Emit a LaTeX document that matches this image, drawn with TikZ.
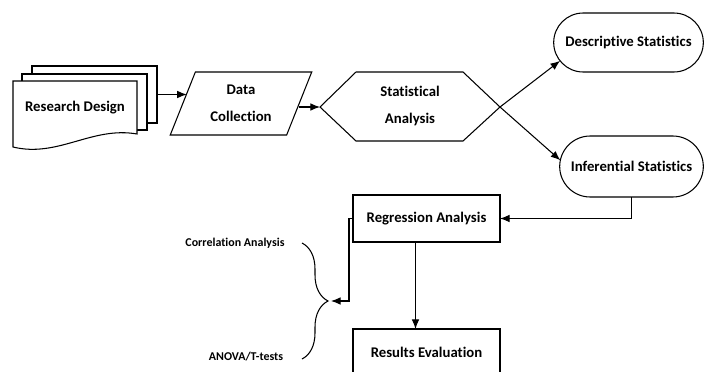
\documentclass[tikz,border=0pt]{standalone}
\usepackage{fontspec}
\setmainfont{Carlito}[Ligatures=NoCommon]
\usetikzlibrary{arrows.meta,shapes.geometric,shapes.misc,decorations.pathreplacing}
\tikzset{every path/.style={black,line width=0.75pt}, every node/.style={font=\fontsize{10.5}{19}\selectfont\bfseries, align=center, outer sep=0pt}}
\tikzset{procbox/.style={draw, rectangle, minimum width=36.75mm, minimum height=11.75mm},
  termbox/.style={draw, rounded rectangle},
  iobox/.style={draw, trapezium, trapezium left angle=67, trapezium right angle=113, trapezium stretches=true},
  sidetext/.style={font=\fontsize{8.5}{10}\selectfont\bfseries}}

\begin{document}
\begin{tikzpicture}[x=0.25mm, y=-0.25mm, >={Latex[length=2.4mm,width=1.9mm]}]
  \useasboundingbox (0,0) rectangle (709,371);
  % stacked documents
  \node[draw, fill=white, minimum width=31.25mm, minimum height=14.25mm] (sheet3) at (94.5,94.5) {};
  \node[draw, fill=white, minimum width=31.25mm, minimum height=14mm] (sheet2) at (84.5,102) {};
  \draw[fill=white] (13,81) -- (137,81) -- (137,134) .. controls (92,126) and (58,158) .. (13,147) -- cycle;
  \node (design) at (75,108) {Research Design};
  \node[iobox, minimum width=35.5mm, minimum height=15.75mm] (data) at (241,103.5) {Data\\Collection};
  % hexagon
  \coordinate (stat-w) at (320,107);
  \coordinate (stat-e) at (500,107);
  \draw (stat-w) -- (356,72) -- (463,72) -- (stat-e) -- (463,141) -- (356,141) -- cycle;
  \node (stat) at (410,106) {Statistical\\Analysis};
  \node[termbox, minimum width=39.75mm, minimum height=14.75mm] (desc) at (628.5,42.5) {Descriptive Statistics};
  \node[termbox, minimum width=38.25mm, minimum height=15.25mm] (infer) at (631.5,166.5) {Inferential Statistics};
  \node[procbox] (regr) at (426.5,218.5) {Regression Analysis};
  \node[procbox] (result) at (426.5,352.5) {Results Evaluation};
  \node[sidetext] (corr) at (235,243) {Correlation Analysis};
  \node[sidetext] (anova) at (246,357) {ANOVA/T-tests};
  % brace
  \coordinate (br-top) at (302,243);
  \coordinate (br-bot) at (302,359);
  \coordinate (br-tip) at (331,301);
  \draw[decorate, decoration={brace, amplitude=6.5mm}] (br-top) -- (br-bot);
  % connectors
  \draw[->] (sheet3.east) -- ([xshift=1mm]sheet3.east -| data.west);
  \draw[->] (data.east |- stat-w) -- (stat-w);
  \draw[->] (stat-e) -- (desc.195);
  \draw[->] (stat-e) -- (infer.175);
  \draw[->] (infer.south) |- (regr.east);
  \draw[->] ([xshift=-2.75mm]regr.south) -- ([xshift=-2.75mm]result.north);
  \draw[->] (regr.west) -- ++(-4,0) |- (br-tip);
\end{tikzpicture}
\end{document}
